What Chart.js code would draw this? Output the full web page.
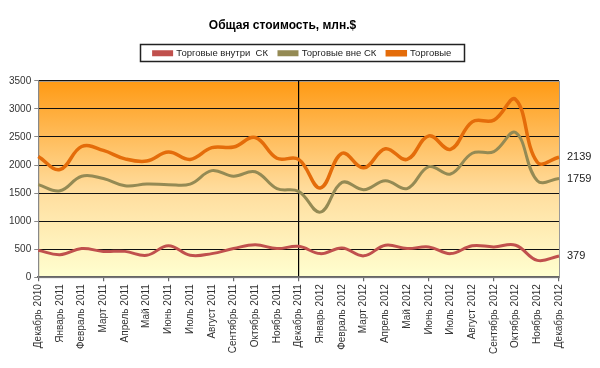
<!DOCTYPE html>
<html lang="ru">
<head>
    <meta charset="UTF-8">
    <title>Общая стоимость</title>
    <script src="https://cdn.jsdelivr.net/npm/chart.js"></script>
    <style>
        html, body { margin: 0; padding: 0; background: #fff; }
        #wrap { width: 600px; height: 368px; }
    </style>
</head>
<body>
    <div id="wrap"><canvas id="grafico"></canvas></div>
    <script>
        const meses = [
            'Декабрь 2010', 'Январь 2011', 'Февраль 2011', 'Март 2011', 'Апрель 2011', 'Май 2011',
            'Июнь 2011', 'Июль 2011', 'Август 2011', 'Сентябрь 2011', 'Октябрь 2011', 'Ноябрь 2011',
            'Декабрь 2011', 'Январь 2012', 'Февраль 2012', 'Март 2012', 'Апрель 2012', 'Май 2012',
            'Июнь 2012', 'Июль 2012', 'Август 2012', 'Сентябрь 2012', 'Октябрь 2012', 'Ноябрь 2012',
            'Декабрь 2012'
        ];
        const vnutri = [480, 400, 510, 460, 460, 390, 560, 390, 420, 510, 580, 510,
                        550, 420, 520, 380, 570, 510, 540, 420, 560, 540, 570, 300, 379];
        const vne = [1650, 1540, 1800, 1760, 1630, 1660, 1650, 1660, 1900, 1800, 1880, 1580,
                     1530, 1160, 1690, 1560, 1720, 1580, 1970, 1840, 2210, 2240, 2580, 1720, 1759];
        const torgovye = [2150, 1920, 2330, 2260, 2110, 2070, 2230, 2100, 2310, 2320, 2490, 2120,
                          2100, 1590, 2210, 1950, 2290, 2100, 2520, 2280, 2770, 2800, 3170, 2050, 2139];
        const yTicks = [0, 500, 1000, 1500, 2000, 2500, 3000, 3500];

        // fundo em degradê na área do gráfico
        const fundo = {
            id: 'fundo',
            beforeDraw(chart) {
                const { ctx, chartArea: a } = chart;
                const g = ctx.createLinearGradient(0, a.top, 0, a.bottom);
                g.addColorStop(0, '#ff9a14');
                g.addColorStop(0.55, '#ffdc9c');
                g.addColorStop(1, '#ffffd0');
                ctx.save();
                ctx.fillStyle = g;
                ctx.fillRect(a.left, a.top, a.right - a.left, a.bottom - a.top);
                ctx.strokeStyle = '#999';
                ctx.lineWidth = 1;
                ctx.strokeRect(a.left + 0.5, a.top + 0.5, a.right - a.left, a.bottom - a.top);
                ctx.restore();
            }
        };

        // espaço extra abaixo da legenda e legenda deslocada para a direita
        const margemLegenda = {
            id: 'margemLegenda',
            beforeInit(chart) {
                const fitOriginal = chart.legend.fit;
                chart.legend.fit = function () {
                    fitOriginal.bind(chart.legend)();
                    this.height += 13;
                };
            },
            afterLayout(chart) {
                chart.legend.left += 20;
                chart.legend.right += 20;
            }
        };

        // moldura da legenda e rótulos finais
        const extras = {
            id: 'extras',
            afterDraw(chart) {
                const ctx = chart.ctx;
                const boxes = chart.legend.legendHitBoxes;
                if (boxes && boxes.length) {
                    const l = Math.min(...boxes.map(b => b.left)) - 14;
                    const r = Math.max(...boxes.map(b => b.left + b.width)) + 12;
                    const t = boxes[0].top - 4;
                    const h = boxes[0].height + 7;
                    ctx.save();
                    ctx.strokeStyle = '#222';
                    ctx.lineWidth = 1.5;
                    ctx.strokeRect(Math.round(l) + 0.5, Math.round(t) + 0.5, Math.round(r - l), Math.round(h));
                    ctx.restore();
                }
                ctx.save();
                ctx.font = '11px "Liberation Sans", Arial, sans-serif';
                ctx.fillStyle = '#222';
                ctx.textBaseline = 'middle';
                chart.data.datasets.forEach((ds, i) => {
                    const pts = chart.getDatasetMeta(i).data;
                    const p = pts[pts.length - 1];
                    ctx.fillText(String(ds.data[ds.data.length - 1]), p.x + 8, p.y);
                });
                ctx.restore();
            }
        };

        function criarGrafico() {
            const ctx = document.getElementById('grafico').getContext('2d');
            Chart.defaults.font.family = '"Liberation Sans", Arial, sans-serif';
            Chart.defaults.font.size = 10;
            Chart.defaults.color = '#222';
            new Chart(ctx, {
                type: 'line',
                data: {
                    labels: meses,
                    datasets: [
                        { label: 'Торговые внутри  СК', data: vnutri, borderColor: '#c0504d', backgroundColor: '#c0504d', borderWidth: 3 },
                        { label: 'Торговые вне СК', data: vne, borderColor: '#948a54', backgroundColor: '#948a54', borderWidth: 3 },
                        { label: 'Торговые', data: torgovye, borderColor: '#e46c0a', backgroundColor: '#e46c0a', borderWidth: 3.5 }
                    ]
                },
                options: {
                    responsive: true,
                    maintainAspectRatio: false,
                    animation: false,
                    layout: { padding: { left: 6, right: 41, top: 10, bottom: 11 } },
                    elements: {
                        point: { radius: 0 },
                        line: { tension: 0.4 }
                    },
                    plugins: {
                        title: {
                            display: true,
                            text: 'Общая стоимость, млн.$',
                            color: '#000',
                            font: { size: 12, weight: 'bold' },
                            padding: { top: 8, bottom: 5 }
                        },
                        legend: {
                            labels: {
                                boxWidth: 18,
                                boxHeight: 3,
                                padding: 11,
                                color: '#222',
                                font: { size: 9.5 }
                            }
                        },
                        tooltip: { enabled: false }
                    },
                    scales: {
                        x: {
                            offset: false,
                            border: { color: '#666', width: 1.5 },
                            grid: {
                                color: c => c.index === 12 ? '#000' : 'transparent',
                                tickColor: c => c.index % 3 === 0 ? '#666' : 'transparent',
                                tickLength: 4,
                                lineWidth: 1.2
                            },
                            ticks: { maxRotation: 90, minRotation: 90, autoSkip: false, padding: 3, color: '#333' }
                        },
                        y: {
                            min: 0,
                            max: 3500,
                            border: { color: '#888' },
                            afterBuildTicks: axis => { axis.ticks = yTicks.map(v => ({ value: v })); },
                            grid: {
                                color: c => c.index === 0 ? '#888' : '#111',
                                tickColor: '#888',
                                tickLength: 4
                            },
                            ticks: { padding: 3, color: '#333', callback: v => String(v) }
                        }
                    }
                },
                plugins: [fundo, margemLegenda, extras]
            });
        }

        window.onload = criarGrafico;
    </script>
</body>
</html>
